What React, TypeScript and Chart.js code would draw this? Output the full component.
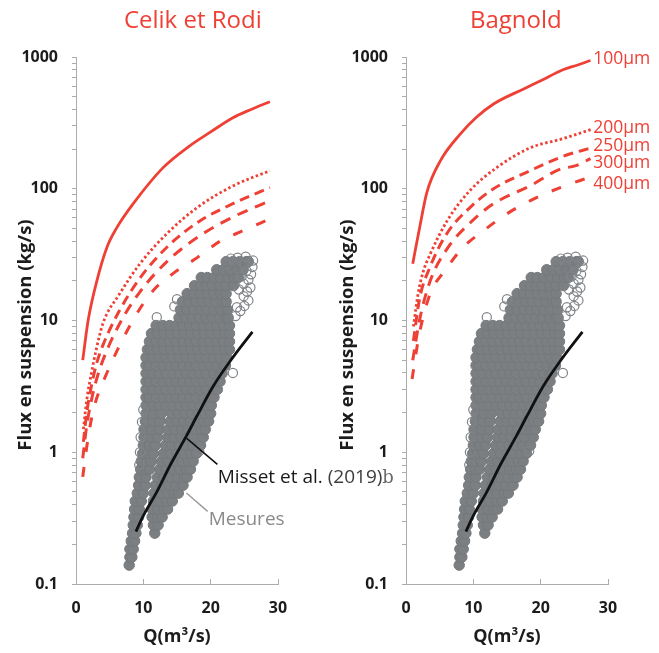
import React, { useEffect, useRef } from 'react';
import { Chart, registerables } from 'chart.js';

Chart.register(...registerables);

type P = [number, number];

// ---------- data (Q in m3/s, flux in kg/s) ----------
const titleLeft = 'Celik et Rodi';
const titleRight = 'Bagnold';
const yTitle = 'Flux en suspension (kg/s)';
const xTitle = 'Q(m³/s)';

const celik100: P[] = [[1.0, 5], [1.8, 10], [3.1, 20], [4.6, 36], [6, 50], [8.5, 77], [12.9, 144], [16.9, 212], [20, 270], [23.3, 346], [26, 400], [28.8, 458]];
const celik200: P[] = [[1.1, 1.5], [1.6, 2.5], [2.3, 4], [3.0, 6], [4.0, 9.5], [6.5, 16], [9.5, 27], [13.5, 45.6], [18, 72], [23.3, 105], [28.8, 137]];
const celik250: P[] = [[1.1, 1.2], [1.6, 2.0], [2.3, 3.2], [3.0, 4.6], [4.0, 6.5], [6.5, 12], [9.5, 21], [13.5, 36], [18.4, 57], [23.3, 77], [28.8, 102]];
const celik300: P[] = [[1.0, 0.9], [1.6, 1.6], [2.3, 2.5], [3.0, 3.5], [4.0, 5], [6.5, 9.5], [9.5, 16.5], [13.5, 28], [18.4, 44], [23.3, 61], [28.8, 81]];
const celik400: P[] = [[1.0, 0.65], [1.6, 1.1], [2.3, 1.8], [3.0, 2.5], [4.0, 3.4], [6.5, 6.5], [9.0, 11.2], [11.5, 17], [14.4, 22.7], [18, 30], [21.4, 40], [24.8, 48], [28.8, 59]];

const bagnold100: P[] = [[1.0, 27], [2, 50], [3.1, 94], [5.1, 163], [8.05, 260], [10.5, 350], [13, 440], [17.4, 570], [20, 660], [23.3, 800], [25.5, 870], [27.4, 940]];
const bagnold200: P[] = [[1.1, 9], [1.8, 16], [2.5, 23], [3.6, 32], [6.1, 57], [9.5, 97], [13.5, 145], [18.4, 204], [23.3, 240], [27.6, 283]];
const bagnold250: P[] = [[1.1, 7], [2, 14.5], [3.6, 25.7], [6.1, 46], [9.5, 72], [13, 100], [18.4, 137], [23.3, 176], [27.6, 205]];
const bagnold300: P[] = [[1.0, 5], [2, 10], [3.6, 20], [6.1, 35], [9.5, 55], [13, 77], [18.4, 105], [22.9, 141], [25.1, 149], [27.4, 169]];
const bagnold400: P[] = [[0.9, 3.6], [2, 8], [3.6, 16], [5.8, 24], [8.5, 36], [11.5, 48], [15, 64.6], [18.4, 81], [22.9, 102], [26.4, 118], [27.4, 122]];

const misset: P[] = [[8.9, 0.25], [10, 0.33], [12, 0.5], [14, 0.8], [16.4, 1.33], [18, 1.9], [20.4, 3.18], [23, 5], [26.2, 8.2]];

// measurements: rows of [flux, list of Q]
const mesuresRows: [number, number[]][] = [
  [0.139, [7.9]],
  [0.160, [8.0, 8.3]],
  [0.184, [8.0, 8.5]],
  [0.212, [8.2, 8.7]],
  [0.243, [8.4, 8.9, 11.7]],
  [0.280, [8.5, 9.1, 11.5, 12.2]],
  [0.322, [8.6, 9.3, 11.3, 12.1, 12.8]],
  [0.370, [8.7, 9.4, 11.3, 12.2, 13.1, 13.6]],
  [0.426, [8.8, 9.7, 11.5, 12.5, 13.5, 14.3]],
  [0.489, [9.1, 10.0, 11.6, 12.6, 13.6, 14.6, 15.2]],
  [0.562, [9.3, 10.3, 11.8, 12.8, 13.8, 14.8, 15.9]],
  [0.647, [9.4, 10.4, 12.1, 13.1, 14.1, 15.1, 16.1, 16.5]],
  [0.743, [9.6, 10.4, 10.9, 12.4, 13.4, 14.4, 15.4, 16.4, 17.0]],
  [0.855, [9.7, 10.5, 11.2, 12.7, 13.7, 14.7, 15.7, 16.7, 17.4]],
  [0.98, [9.9, 10.7, 11.5, 13.0, 14.0, 15.0, 16.0, 17.0, 17.9]],
  [1.13, [10.0, 10.9, 11.8, 13.3, 14.3, 15.3, 16.3, 17.3, 18.5]],
  [1.30, [10.1, 11.1, 12.1, 13.6, 14.6, 15.6, 16.6, 17.6, 18.9]],
  [1.49, [10.1, 11.2, 12.4, 13.7, 14.7, 15.7, 16.7, 17.7, 18.6, 19.2]],
  [1.72, [10.3, 11.4, 12.5, 14.0, 15.0, 16.0, 17.0, 18.0, 19.0, 19.7]],
  [1.97, [10.4, 11.5, 12.7, 14.2, 15.2, 16.2, 17.2, 18.2, 19.2, 20.0]],
  [2.27, [10.4, 11.4, 12.4, 13.4, 14.4, 15.4, 16.4, 17.4, 18.4, 19.4, 20.1]],
  [2.61, [10.4, 10.9, 11.9, 12.9, 13.9, 14.9, 15.9, 16.9, 17.9, 18.9, 19.9, 20.5]],
  [3.00, [10.4, 11.4, 12.4, 13.4, 14.4, 15.4, 16.4, 17.4, 18.4, 19.4, 20.4, 21.0]],
  [3.45, [10.4, 10.9, 11.9, 12.9, 13.9, 14.9, 15.9, 16.9, 17.9, 18.9, 19.9, 20.9, 21.4]],
  [3.97, [10.4, 11.4, 12.4, 13.4, 14.4, 15.4, 16.4, 17.4, 18.4, 19.4, 20.4, 21.4, 21.7]],
  [4.56, [10.4, 10.9, 11.9, 12.9, 13.9, 14.9, 15.9, 16.9, 17.9, 18.9, 19.9, 20.9, 21.9, 22.2]],
  [5.24, [10.4, 11.4, 12.4, 13.4, 14.4, 15.4, 16.4, 17.4, 18.4, 19.4, 20.4, 21.4, 22.4]],
  [6.03, [10.6, 11.1, 12.1, 13.1, 14.1, 15.1, 16.1, 17.1, 18.1, 19.1, 20.1, 21.1, 22.1, 22.8]],
  [6.93, [10.9, 11.9, 12.9, 13.9, 14.9, 15.9, 16.9, 17.9, 18.9, 19.9, 20.9, 21.9, 22.8]],
  [7.97, [11.2, 12.1, 13.1, 14.1, 15.1, 16.1, 17.1, 18.1, 19.1, 20.1, 21.1, 22.1, 22.8]],
  [9.16, [11.9, 12.9, 13.9, 14.9, 15.9, 16.9, 17.9, 18.9, 19.9, 20.9, 21.9, 22.8]],
  [10.5, [15.3, 16.3, 17.3, 18.3, 19.3, 20.3, 21.3, 22.3, 22.6]],
  [12.1, [15.5, 16.5, 17.5, 18.5, 19.5, 20.5, 21.5, 22.5]],
  [13.9, [15.8, 16.8, 17.8, 18.8, 19.8, 20.8, 21.8, 22.3]],
  [16.0, [16.5, 17.5, 18.5, 19.5, 20.5, 21.5, 22.3]],
  [18.4, [17.6, 18.5, 19.4, 20.3, 21.3, 22.3, 23.4]],
  [21.2, [18.6, 19.5, 20.5, 21.5, 22.5, 23.5, 24.1]],
  [24.3, [20.9, 21.9, 22.9, 23.9, 24.8]],
  [28.0, [22.3, 23.3, 24.3, 25.3, 25.6]],
];

// isolated / open circles of the measurements
const mesuresOpen: P[] = [
  [23.7, 10.8], [24.4, 11.8], [23.9, 12.6], [25.0, 12.9], [25.6, 14.2], [24.9, 15.3], [25.4, 16.6],
  [24.2, 17.2], [25.9, 17.8], [24.9, 19.0], [25.6, 20.4], [24.6, 21.6], [26.0, 22.4], [25.3, 23.8],
  [26.2, 25.5], [25.0, 26.5], [26.3, 28.5], [24.0, 30.0], [25.2, 30.5], [23.0, 29.5], [22.3, 27.0],
  [9.5, 1.0], [9.6, 1.3], [9.8, 1.7], [9.4, 0.8], [10.0, 2.1], [15.0, 14.5], [14.6, 12.8], [12.0, 10.6],
  [23.3, 4.0], [18.3, 1.02],
];

const sizeLabels = ['100µm', '200µm', '250µm', '300µm', '400µm'];
const sizeLabelFlux = [969, 290, 211, 157, 109];
const sizeLabelQ = 27.8;

const yTickValues = [0.1, 1, 10, 100, 1000];
const yTickLabels = ['0.1', '1', '10', '100', '1000'];
const xTickValues = [0, 10, 20, 30];

// annotation anchors (Q, flux)
const missetLeader: P[] = [[16.4, 1.28], [21.0, 0.81]];
const missetText: P = [21.04, 0.582];
const mesuresLeader: P[] = [[16.4, 0.49], [19.55, 0.356]];
const mesuresText: P = [19.7, 0.279];

// ---------- styling ----------
const RED = '#ee4035';
const GRAY_FILL = '#7c7f82';
const GRAY_EDGE = '#75797c';
const AXIS = '#ababab';
const DARK = '#1c1c1c';
const FONT = '"Open Sans", "DejaVu Sans", sans-serif';

const lineStyles = [
  { dash: [] as number[], width: 2.8 },
  { dash: [2.5, 2.5], width: 2.8 },
  { dash: [10, 6], width: 3 },
  { dash: [11, 8], width: 3 },
  { dash: [10, 15], width: 3 },
];

const minorTicks: number[] = [];
[0.1, 1, 10, 100].forEach((d) => {
  for (let m = 1; m <= 9; m++) minorTicks.push(Number((d * m).toPrecision(3)));
});
minorTicks.push(1000);

const toXY = (arr: P[]) => arr.map(([x, y]) => ({ x, y }));

function annotPlugin(side: 'left' | 'right') {
  return {
    id: 'annot' + side,
    afterDatasetsDraw(chart: any) {
      const ctx = chart.ctx as CanvasRenderingContext2D;
      const xs = chart.scales.x;
      const ys = chart.scales.y;
      const px = (q: number) => xs.getPixelForValue(q);
      const py = (f: number) => ys.getPixelForValue(f);
      const isLeft = side === 'left';
      ctx.save();
      // panel title
      ctx.font = `24px ${FONT}`;
      ctx.fillStyle = RED;
      ctx.textAlign = 'center';
      ctx.textBaseline = 'alphabetic';
      ctx.fillText(isLeft ? titleLeft : titleRight, isLeft ? 192.8 : 185.8, 27.5);
      // y-axis title
      ctx.save();
      ctx.translate(isLeft ? 26 : 18, 335);
      ctx.rotate(-Math.PI / 2);
      ctx.font = `bold 18.5px ${FONT}`;
      ctx.fillStyle = DARK;
      ctx.textAlign = 'center';
      ctx.textBaseline = 'middle';
      ctx.fillText(yTitle, 0, 0);
      ctx.restore();

      if (isLeft) {
        // Misset leader + label
        ctx.strokeStyle = '#111';
        ctx.lineWidth = 1.6;
        ctx.beginPath();
        ctx.moveTo(px(missetLeader[0][0]), py(missetLeader[0][1]));
        ctx.lineTo(px(missetLeader[1][0]), py(missetLeader[1][1]));
        ctx.stroke();
        ctx.font = `19px ${FONT}`;
        ctx.textAlign = 'left';
        ctx.textBaseline = 'alphabetic';
        const tx = px(missetText[0]);
        const ty = py(missetText[1]);
        ctx.fillStyle = '#1a1a1a';
        const part1 = 'Misset et al. ';
        ctx.fillText(part1, tx, ty);
        const w1 = ctx.measureText(part1).width;
        ctx.fillStyle = '#3c3c3c';
        const part2 = '(2019)';
        ctx.fillText(part2, tx + w1, ty);
        const w2 = ctx.measureText(part2).width;
        ctx.fillStyle = '#6a6a6a';
        ctx.font = '18px "DejaVu Serif", serif';
        ctx.fillText('b', tx + w1 + w2, ty);

        // Mesures leader + label
        ctx.strokeStyle = '#9a9a9a';
        ctx.lineWidth = 1.4;
        ctx.beginPath();
        ctx.moveTo(px(mesuresLeader[0][0]), py(mesuresLeader[0][1]));
        ctx.lineTo(px(mesuresLeader[1][0]), py(mesuresLeader[1][1]));
        ctx.stroke();
        ctx.font = `19px ${FONT}`;
        ctx.fillStyle = '#8a8a8a';
        ctx.fillText('Mesures', px(mesuresText[0]), py(mesuresText[1]));
      } else {
        ctx.font = `17.5px ${FONT}`;
        ctx.fillStyle = RED;
        ctx.textAlign = 'left';
        ctx.textBaseline = 'middle';
        sizeLabels.forEach((lab, i) => {
          ctx.fillText(lab, px(sizeLabelQ), py(sizeLabelFlux[i]));
        });
      }
      ctx.restore();
    },
  };
}

function buildConfig(side: 'left' | 'right', canvasW: number): any {
  const curves = side === 'left'
    ? [celik100, celik200, celik250, celik300, celik400]
    : [bagnold100, bagnold200, bagnold250, bagnold300, bagnold400];
  const mesuresPoints = mesuresRows.flatMap(([f, qs]) => qs.map((q) => ({ x: q, y: f })));

  const datasets: any[] = [
    {
      type: 'line',
      data: toXY(misset),
      borderColor: '#111111',
      borderWidth: 2.8,
      pointRadius: 0,
      fill: false,
      cubicInterpolationMode: 'monotone',
      order: 1,
    },
    ...curves.map((c, i) => ({
      type: 'line',
      data: toXY(c),
      borderColor: RED,
      borderWidth: lineStyles[i].width,
      borderDash: lineStyles[i].dash,
      pointRadius: 0,
      fill: false,
      cubicInterpolationMode: 'monotone',
      order: 2,
    })),
    {
      type: 'scatter',
      data: toXY(mesuresOpen),
      pointRadius: 4.6,
      pointBackgroundColor: 'rgba(255,255,255,0)',
      pointBorderColor: '#808488',
      pointBorderWidth: 1.2,
      showLine: false,
      order: 5,
    },
    {
      type: 'scatter',
      data: mesuresPoints,
      pointRadius: 5.2,
      pointBackgroundColor: GRAY_FILL,
      pointBorderColor: GRAY_EDGE,
      pointBorderWidth: 1,
      showLine: false,
      order: 6,
    },
  ];

  const tickFont = { family: FONT, weight: 'bold', size: 16 };

  return {
    type: 'scatter',
    data: { datasets },
    options: {
      responsive: false,
      animation: false,
      devicePixelRatio: 1,
      events: [],
      layout: { padding: { left: 0, top: 57, right: canvasW - 278, bottom: 0 } },
      plugins: {
        legend: { display: false },
        tooltip: { enabled: false },
        title: { display: false },
      },
      scales: {
        x: {
          type: 'linear',
          position: 'bottom',
          min: 0,
          max: 30,
          afterBuildTicks: (scale: any) => {
            scale.ticks = xTickValues.map((v) => ({ value: v }));
          },
          afterFit: (scale: any) => {
            scale.height = 69;
          },
          ticks: { padding: 20, color: DARK, font: tickFont, maxRotation: 0 },
          grid: { display: true, drawOnChartArea: false, drawTicks: true, tickLength: -5, color: AXIS },
          border: { display: true, color: AXIS, width: 1 },
          title: {
            display: true,
            text: xTitle,
            color: DARK,
            font: { family: FONT, weight: 'bold', size: 18 },
            padding: { top: 0, bottom: 5 },
          },
        },
        y: {
          type: 'logarithmic',
          position: 'left',
          min: 0.1,
          max: 1000,
          afterBuildTicks: (scale: any) => {
            scale.ticks = minorTicks.map((v) => ({ value: v }));
          },
          afterFit: (scale: any) => {
            scale.width = 76;
          },
          ticks: {
            autoSkip: false,
            padding: 14,
            color: DARK,
            font: tickFont,
            callback: (v: any) => {
              const i = yTickValues.findIndex((t) => Math.abs(t - Number(v)) / t < 1e-6);
              return i >= 0 ? yTickLabels[i] : '';
            },
          },
          grid: { display: true, drawOnChartArea: false, drawTicks: true, tickLength: 4, color: AXIS },
          border: { display: true, color: AXIS, width: 1 },
        },
      },
    },
    plugins: [annotPlugin(side)],
  };
}

export default function App() {
  const leftRef = useRef<HTMLCanvasElement>(null);
  const rightRef = useRef<HTMLCanvasElement>(null);

  useEffect(() => {
    const c1 = new Chart(leftRef.current as HTMLCanvasElement, buildConfig('left', 410));
    const c2 = new Chart(rightRef.current as HTMLCanvasElement, buildConfig('right', 329));
    return () => {
      c1.destroy();
      c2.destroy();
    };
  }, []);

  return (
    <div style={{ position: 'fixed', left: 0, top: 0, width: 659, height: 653, background: '#ffffff', overflow: 'hidden' }}>
      <canvas
        ref={leftRef}
        width={410}
        height={653}
        style={{ position: 'absolute', left: 0, top: 0, width: 410, height: 653 }}
      />
      <canvas
        ref={rightRef}
        width={329}
        height={653}
        style={{ position: 'absolute', left: 330, top: 0, width: 329, height: 653 }}
      />
    </div>
  );
}
